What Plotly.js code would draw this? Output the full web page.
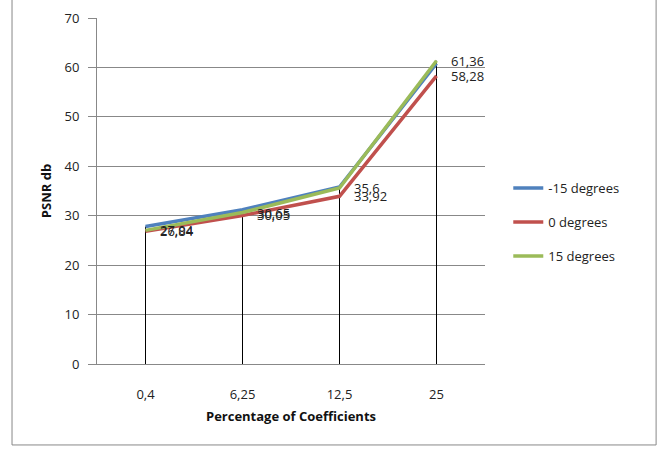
<!DOCTYPE html>
<html>
<head>
<meta charset="utf-8">
<script src="https://cdn.plot.ly/plotly-3.0.1.min.js"></script>
<style>html,body{margin:0;padding:0;background:#fff;}#chart{width:671px;height:450px;}</style>
</head>
<body>
<div id="chart"></div>
<script>
const categories = ["0,4", "6,25", "12,5", "25"];
const seriesNames = ["-15 degrees", "0 degrees", "15 degrees"];
const minus15 = [27.8, 31.2, 35.8, 60.8];
const zero = [26.84, 30.05, 33.92, 58.28];
const plus15 = [27.04, 30.65, 35.6, 61.36];
const labelled = [zero, plus15];
const yTicks = [0, 10, 20, 30, 40, 50, 60, 70];

const fmt = v => String(v).replace('.', ',');
const colors = ["#4F81BD", "#C0504D", "#9BBB59"];
const allSeries = [minus15, zero, plus15];

// drop lines from the highest point to the axis
const dropX = [], dropY = [];
categories.forEach((c, i) => {
  const top = Math.max(...allSeries.map(s => s[i]));
  dropX.push(c, c, null);
  dropY.push(0, top, null);
});

const traces = [{
  x: dropX, y: dropY, mode: 'lines', line: {color: '#000', width: 1},
  showlegend: false, hoverinfo: 'skip'
}];
allSeries.forEach((s, k) => {
  traces.push({
    x: categories, y: s, name: seriesNames[k], mode: 'lines',
    line: {color: colors[k], width: 3.5}, legendgroup: 'g' + k
  });
});

const annotations = [];
labelled.forEach(s => {
  s.forEach((v, i) => {
    annotations.push({
      x: i, y: v, text: fmt(v), showarrow: false,
      xanchor: 'left', yanchor: 'middle', xshift: 12,
      font: {family: 'Open Sans, Liberation Sans, sans-serif', size: 13, color: '#222'}
    });
  });
});

const layout = {
  width: 671, height: 450,
  margin: {l: 97, r: 186, t: 18, b: 86},
  paper_bgcolor: '#fff', plot_bgcolor: '#fff',
  font: {family: 'Open Sans, Liberation Sans, sans-serif', size: 12, color: '#222'},
  xaxis: {
    type: 'category', categoryorder: 'array', categoryarray: categories,
    range: [-0.5, 3.5], showgrid: false, showline: true, linecolor: '#888', linewidth: 1,
    ticks: '', ticklabelstandoff: 18, zeroline: false,
    tickfont: {size: 13},
    title: {text: 'Percentage of Coefficients', font: {size: 13, weight: 'bold', color: '#111'}, standoff: 10}
  },
  yaxis: {
    range: [0, 70], tickvals: yTicks, ticktext: yTicks.map(String),
    showgrid: true, gridcolor: '#888', gridwidth: 1,
    showline: true, linecolor: '#888', linewidth: 1,
    ticks: 'outside', ticklen: 8, tickcolor: '#888', zeroline: false,
    ticklabelstandoff: 6, tickfont: {size: 13},
    title: {text: 'PSNR db', font: {size: 13, weight: 'bold', color: '#111'}, standoff: 9}
  },
  legend: {
    x: 1.06, y: 0.41, xanchor: 'left', yanchor: 'middle',
    font: {size: 13, color: '#222'}, tracegroupgap: 14, traceorder: 'grouped',
    itemwidth: 30, bgcolor: 'rgba(0,0,0,0)'
  },
  annotations: annotations,
  shapes: [{
    type: 'rect', xref: 'paper', yref: 'paper',
    x0: -0.219, x1: 1.441, y0: -0.234, y1: 1.06,
    line: {color: '#888', width: 1}
  }]
};

Plotly.newPlot('chart', traces, layout, {displayModeBar: false, staticPlot: true});
</script>
</body>
</html>
